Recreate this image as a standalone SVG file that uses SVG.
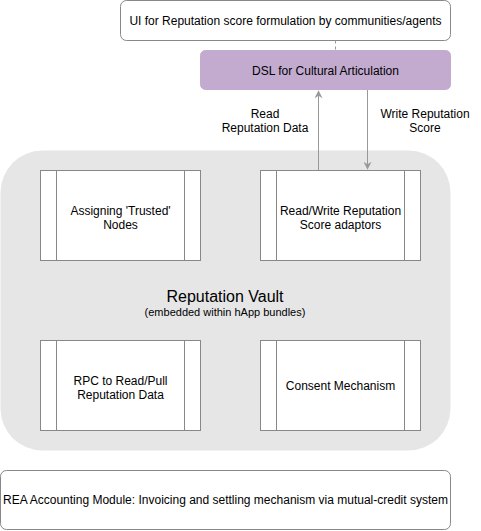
<svg xmlns="http://www.w3.org/2000/svg" width="481" height="531" viewBox="0 0 481 531">
<style>
text{font-family:"Liberation Sans",Arial,Helvetica,sans-serif;font-size:12px;fill:#000;text-anchor:middle}
.box{fill:#fff;stroke:#888;stroke-width:1}
.ln{stroke:#888;stroke-width:1;fill:none}
.conn{stroke:#999;stroke-width:1;fill:none}
</style>
<defs>
<marker id="ah" viewBox="0 0 10 10" refX="9" refY="5" markerWidth="8" markerHeight="8" markerUnits="userSpaceOnUse" orient="auto">
<path d="M0,0 L10,5 L0,10 L3,5 Z" fill="#999"/>
</marker>
</defs>
<g id="vault">
<rect x="0.5" y="150.5" width="450" height="300" rx="42" fill="#e6e6e6" stroke="none"/>
<text x="225" y="302" style="font-size:16px">Reputation Vault</text>
<text x="225" y="316" style="font-size:11px">(embedded within hApp bundles)</text>
</g>
<g id="ui">
<rect class="box" x="120.5" y="0.5" width="330" height="40" rx="6"/>
<text x="285.5" y="24.5">UI for Reputation score formulation by communities/agents</text>
</g>
<g id="dsl">
<rect x="200.5" y="50.5" width="250" height="39" rx="5" fill="#c3abd0" stroke="#c3abd0"/>
<text x="325.5" y="74.5">DSL for Cultural Articulation</text>
</g>
<g id="trusted">
<rect class="box" x="40.5" y="170.5" width="160" height="90"/>
<path class="ln" d="M56.5,170.5V260.5M184.5,170.5V260.5"/>
<text x="120.5" y="215">Assigning 'Trusted'</text>
<text x="120.5" y="229">Nodes</text>
</g>
<g id="adaptors">
<rect class="box" x="260.5" y="170.5" width="160" height="90"/>
<path class="ln" d="M276.5,170.5V260.5M404.5,170.5V260.5"/>
<text x="340.5" y="215">Read/Write Reputation</text>
<text x="340.5" y="229">Score adaptors</text>
</g>
<g id="rpc">
<rect class="box" x="40.5" y="340.5" width="160" height="90"/>
<path class="ln" d="M56.5,340.5V430.5M184.5,340.5V430.5"/>
<text x="120.5" y="385">RPC to Read/Pull</text>
<text x="120.5" y="399">Reputation Data</text>
</g>
<g id="consent">
<rect class="box" x="260.5" y="340.5" width="160" height="90"/>
<path class="ln" d="M276.5,340.5V430.5M404.5,340.5V430.5"/>
<text x="340.5" y="390">Consent Mechanism</text>
</g>
<g id="rea">
<rect class="box" x="0.5" y="470.5" width="450" height="59" rx="6"/>
<text x="225.5" y="504">REA Accounting Module: Invoicing and settling mechanism via mutual-credit system</text>
</g>
<g id="connectors">
<path class="conn" d="M335.5,40.5V50.5" stroke-dasharray="3,3"/>
<path class="conn" d="M318.5,170V91" marker-end="url(#ah)"/>
<path class="conn" d="M367.5,90V169" marker-end="url(#ah)"/>
<text x="265" y="118">Read</text>
<text x="265" y="132">Reputation Data</text>
<text x="425" y="118">Write Reputation</text>
<text x="425" y="132">Score</text>
</g>
</svg>
